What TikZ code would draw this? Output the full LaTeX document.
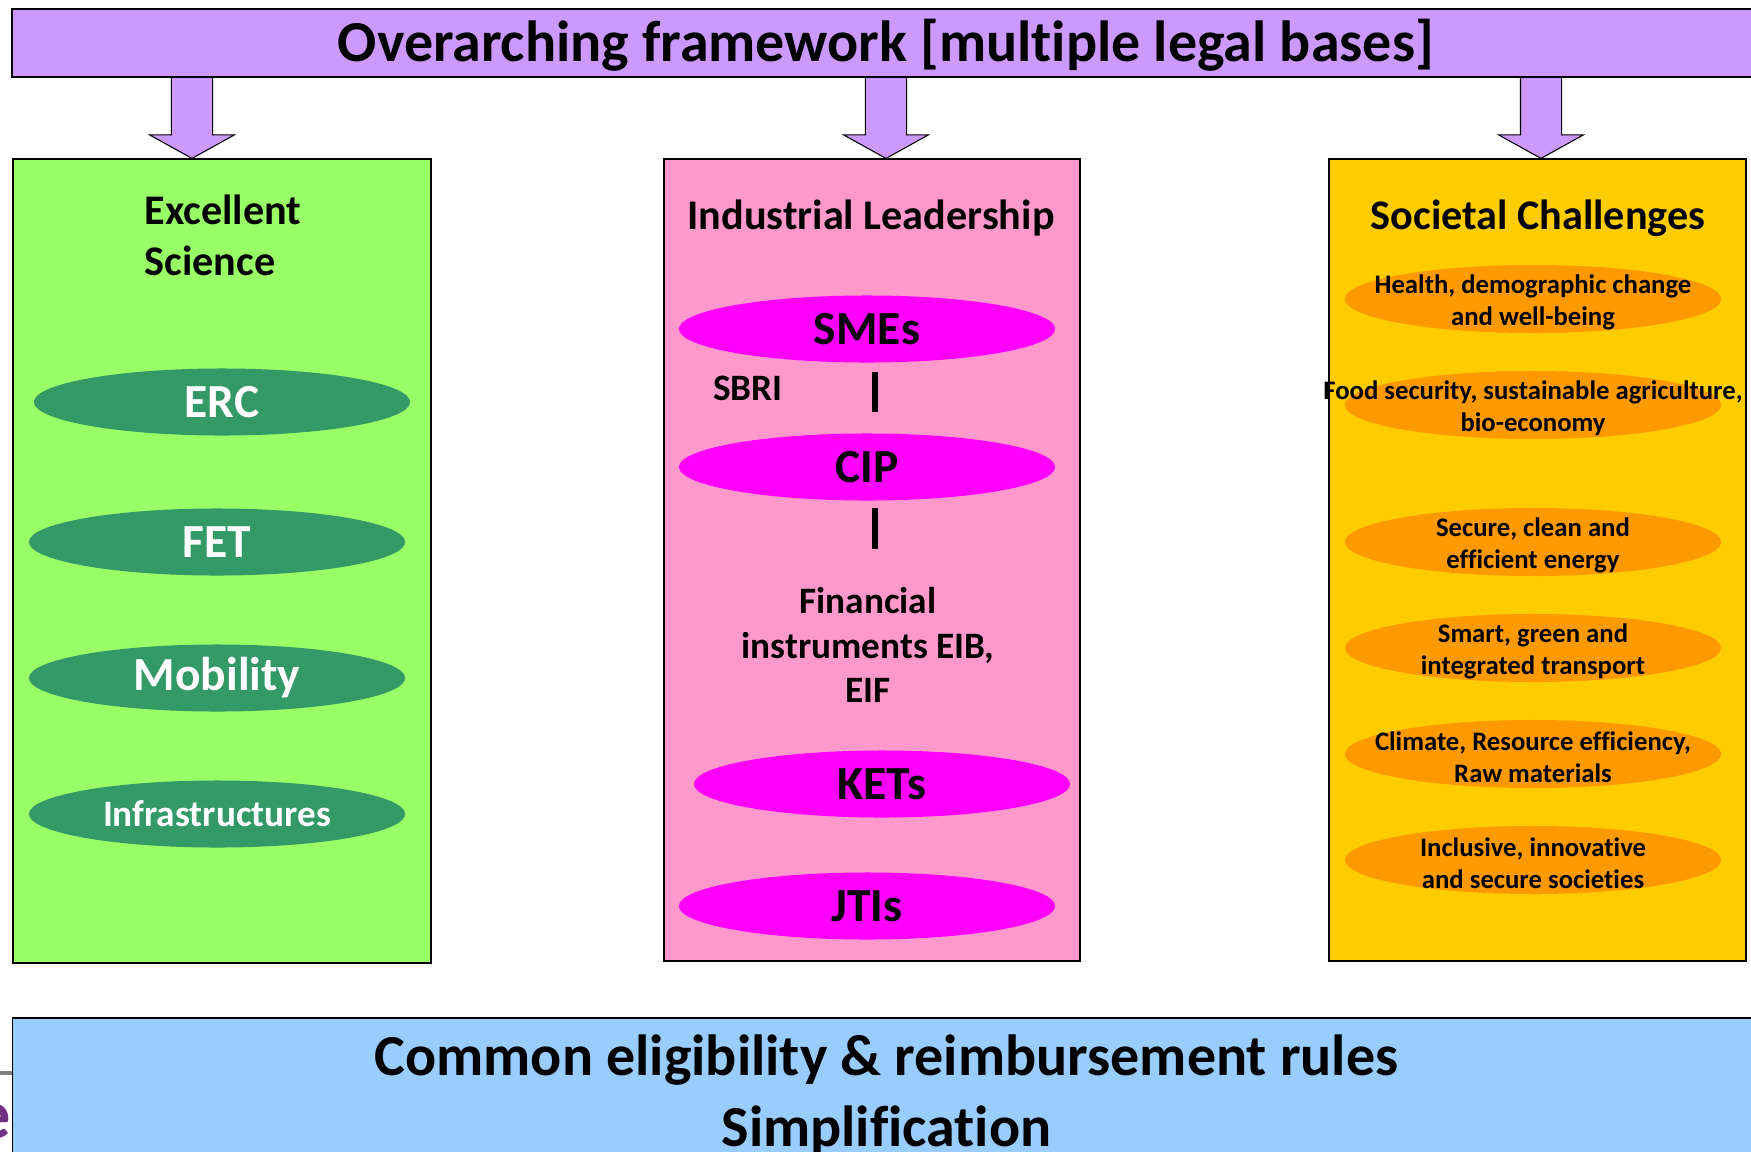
\documentclass[tikz,border=0pt]{standalone}
\usepackage{fontspec}
\setmainfont[Ligatures=NoCommon]{Carlito}
\usetikzlibrary{shapes.geometric, shapes.arrows, positioning}

\definecolor{framepurple}{HTML}{CC99FF}
\definecolor{sciencegreen}{HTML}{99FF66}
\definecolor{darkgreen}{HTML}{339966}
\definecolor{leaderpink}{HTML}{FF99CC}
\definecolor{brightmagenta}{HTML}{FF00FF}
\definecolor{challengeyellow}{HTML}{FFCC00}
\definecolor{challengeorange}{HTML}{FF9900}
\definecolor{rulesblue}{HTML}{99CCFF}
\definecolor{slidepurple}{HTML}{702F80}

\tikzstyle{banner} = [draw, rectangle, fill=framepurple, line width=0.5pt,
    inner sep=0pt, font=\bfseries\fontsize{16.5}{20.2}\selectfont]
\tikzstyle{pillar} = [draw, rectangle, line width=0.5pt, inner sep=0pt,
    minimum width=4.17cm, minimum height=8.02cm]
\tikzstyle{fatarrow} = [draw, single arrow, shape border rotate=270,
    fill=framepurple, line width=0.3pt, inner sep=0.2cm,
    single arrow head extend=0.22cm, single arrow tip angle=122,
    minimum height=0.86cm, anchor=tip]
\tikzstyle{heading} = [inner sep=0pt, font=\bfseries\fontsize{12}{14.5}\selectfont]
\tikzstyle{small} = [inner sep=0pt, font=\bfseries\fontsize{10.6}{12.7}\selectfont]
\tikzstyle{science} = [ellipse, fill=darkgreen, text=white, inner sep=0pt,
    minimum width=3.76cm, minimum height=0.67cm,
    font=\bfseries\fontsize{13.5}{16}\selectfont]
\tikzstyle{leader} = [ellipse, fill=brightmagenta, inner sep=0pt,
    minimum width=3.76cm, minimum height=0.67cm,
    font=\bfseries\fontsize{13.5}{16}\selectfont]
\tikzstyle{challenge} = [ellipse, fill=challengeorange, inner sep=0pt,
    minimum width=3.76cm, minimum height=0.68cm]
\tikzstyle{challengetext} = [align=center, inner sep=0pt, yshift=-0.03cm,
    font=\bfseries\fontsize{7.6}{9.1}\selectfont]
\tikzstyle{link} = [line width=1.8pt]

\begin{document}
\begin{tikzpicture}[x=0.01cm, y=-0.01cm]
            \useasboundingbox (0,0) rectangle (1751,1151);

            % Pillars
            \node (es) [pillar, fill=sciencegreen, minimum width=4.18cm, minimum height=8.04cm] at (222,561) {};
            \node (il) [pillar, fill=leaderpink, minimum width=4.16cm] at (872,560) {};
            \node (sc) [pillar, fill=challengeyellow] at (1537.5,560) {};

            % Arrows
            \node (down1) [fatarrow] at (192,159) {};
            \node (down2) [fatarrow] at (886,159) {};
            \node (down3) [fatarrow] at (1541,159) {};

            % Framework and rules
            \node (frame) [banner, text depth=1.8pt, minimum width=17.47cm, minimum height=0.68cm] at (886,43) {Overarching framework [multiple legal bases]};
            \draw [gray, line width=1pt] (0,1073) -- (20,1073);
            \node (slide) [anchor=base east, inner sep=0pt, text=slidepurple, font=\bfseries\fontsize{20}{24}\selectfont] at (12,1138) {e};
            \node (rules) [banner, fill=rulesblue, align=center, minimum width=17.47cm, minimum height=1.55cm] at (886.5,1095.5) {Common eligibility \& reimbursement rules\\Simplification};

            % Excellent Science
            \node (estitle) [heading, align=left] at (223,235) {Excellent\\Science};
            \node (erc) [science] at (222,402) {ERC};
            \node (fet) [science] at (217,542) {FET};
            \node (mob) [science] at (217,678) {Mobility};
            \node (infra) [science, font=\bfseries\fontsize{10.6}{12.7}\selectfont] at (217,814) {Infrastructures};

            % Industrial Leadership
            \node (iltitle) [heading, anchor=base] at (871,229.5) {Industrial Leadership};
            \node (sme) [leader] at (867,329) {SMEs};
            \node (sbri) [small, anchor=base] at (748,400) {SBRI};
            \node (cip) [leader] at (867,467) {CIP};
            \node (fin) [small, align=center] at (868,645) {Financial\\instruments EIB,\\EIF};
            \node (ket) [leader] at (882,784) {KETs};
            \node (jti) [leader] at (867,906) {JTIs};
            \draw [link, shorten <=0.085cm, shorten >=0.205cm] ([xshift=0.08cm]sme.south) -- ([xshift=0.08cm]cip.north);
            \draw [link, shorten <=0.065cm, shorten >=0.38cm] ([xshift=0.08cm]cip.south) -- ([xshift=0.07cm]fin.north);

            % Societal Challenges
            \node (sctitle) [heading, anchor=base] at (1538,229.5) {Societal Challenges};
            \node (health) [challenge] at (1533,299) {};
            \node (food) [challenge] at (1533,405) {};
            \node (energy) [challenge] at (1533,542) {};
            \node (transport) [challenge] at (1533,648) {};
            \node (climate) [challenge] at (1533,754) {};
            \node (society) [challenge] at (1533,860) {};
            \node (healthtxt) [challengetext] at (health) {Health, demographic change\\and well-being};
            \node (foodtxt) [challengetext] at (food) {Food security, sustainable agriculture,\\bio-economy};
            \node (energytxt) [challengetext] at (energy) {Secure, clean and\\efficient energy};
            \node (transporttxt) [challengetext] at (transport) {Smart, green and\\integrated transport};
            \node (climatetxt) [challengetext] at (climate) {Climate, Resource efficiency,\\Raw materials};
            \node (societytxt) [challengetext] at (society) {Inclusive, innovative\\and secure societies};

        \end{tikzpicture}
\end{document}
